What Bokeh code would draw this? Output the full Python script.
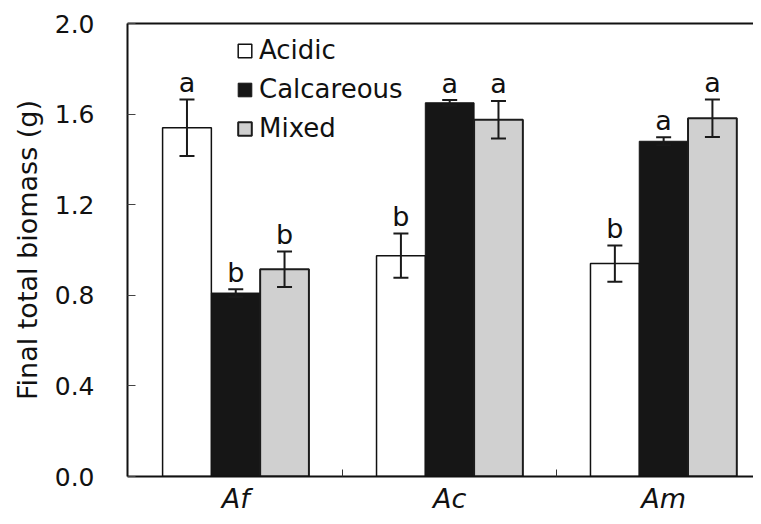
from bokeh.plotting import figure
from bokeh.models import (ColumnDataSource, Range1d, FixedTicker, LinearAxis, Legend, LegendItem,
                          Whisker, TeeHead, NumeralTickFormatter)
from bokeh.core.properties import value
from bokeh.embed import file_html
from bokeh.resources import INLINE

# ---- data ----
groups = ["Af", "Ac", "Am"]
series = ["Acidic", "Calcareous", "Mixed"]
acidic = [1.54, 0.975, 0.94]
acidic_se = [0.125, 0.098, 0.080]
calcareous = [0.81, 1.65, 1.48]
calcareous_se = [0.017, 0.012, 0.018]
mixed = [0.915, 1.575, 1.582]
mixed_se = [0.078, 0.083, 0.083]
acidic_letters = ["a", "b", "b"]
calcareous_letters = ["b", "a", "a"]
mixed_letters = ["b", "a", "a"]
y_ticks = [0.0, 0.4, 0.8, 1.2, 1.6, 2.0]

FONT = "DejaVu Sans"
bar_w = 0.228
offsets = [-bar_w, 0.0, bar_w]
fills = ["#ffffff", "#161616", "#d0d0d0"]
lines = ["#111111", "#161616", "#1c1c1c"]
line_ws = [1.5, 1, 2]

p = figure(width=753, height=516, output_backend="svg", toolbar_location=None,
           x_range=Range1d(0.494, 3.420), y_range=Range1d(0, 2.0),
           min_border_left=127, min_border_right=0, min_border_top=23, min_border_bottom=40)
p.outline_line_color = None
p.xgrid.grid_line_color = None
p.ygrid.grid_line_color = None
p.background_fill_color = "white"
p.border_fill_color = "white"

# x axis
xa = p.xaxis[0]
xa.ticker = FixedTicker(ticks=[1, 2, 3], minor_ticks=[1.5, 2.5])
xa.major_label_overrides = {1: "Af", 2: "Ac", 3: "Am"}
xa.major_label_text_font = FONT
xa.major_label_text_font_style = "italic"
xa.major_label_text_font_size = "27px"
xa.major_label_text_color = "#111111"
xa.major_label_standoff = 6
xa.major_tick_line_color = None
xa.major_tick_in = 0
xa.major_tick_out = 0
xa.minor_tick_in = 7
xa.minor_tick_out = 0
xa.minor_tick_line_color = "#333333"
xa.minor_tick_line_width = 1
xa.axis_line_width = 2
xa.axis_line_color = "#111111"

# y axis
ya = p.yaxis[0]
ya.ticker = FixedTicker(ticks=y_ticks, minor_ticks=[])
ya.formatter = NumeralTickFormatter(format="0.0")
ya.major_label_text_font = FONT
ya.major_label_text_font_size = "25px"
ya.major_label_text_color = "#111111"
ya.major_label_standoff = 33
ya.major_tick_in = 8
ya.major_tick_out = 0
ya.major_tick_line_color = "#444444"
ya.major_tick_line_width = 1
ya.axis_line_width = 2
ya.axis_line_color = "#111111"
ya.axis_label = "Final total biomass (g)"
ya.axis_label_text_font = FONT
ya.axis_label_text_font_style = "normal"
ya.axis_label_text_font_size = "27px"
ya.axis_label_text_color = "#111111"
ya.axis_label_standoff = 9

# top border line
top = LinearAxis(ticker=FixedTicker(ticks=[]), major_label_text_font_size="0px",
                 major_tick_line_color=None, minor_tick_line_color=None,
                 axis_line_width=2, axis_line_color="#111111")
p.add_layout(top, "above")

vals = [acidic, calcareous, mixed]
ses = [acidic_se, calcareous_se, mixed_se]
letters = [acidic_letters, calcareous_letters, mixed_letters]
items = []
for k, name in enumerate(series):
    xs = [i + 1 + offsets[k] for i in range(len(groups))]
    src = ColumnDataSource(dict(
        x=xs, top=vals[k],
        upper=[v + s for v, s in zip(vals[k], ses[k])],
        lower=[v - s for v, s in zip(vals[k], ses[k])],
        lab=letters[k]))
    r = p.vbar(x="x", top="top", bottom=0, width=bar_w, source=src,
               fill_color=fills[k], line_color=lines[k], line_width=line_ws[k])
    items.append(LegendItem(label=name, renderers=[r]))
    w = Whisker(source=src, base="x", upper="upper", lower="lower",
                line_color="#1a1a1a", line_width=2, level="overlay",
                upper_head=TeeHead(size=15, line_width=2, line_color="#1a1a1a"),
                lower_head=TeeHead(size=15, line_width=2, line_color="#1a1a1a"))
    p.add_layout(w)
    p.text(x="x", y="upper", text="lab", source=src, text_align="center",
           text_baseline="alphabetic", y_offset=-17,
           text_font=value(FONT), text_font_size="27px", text_color="#111111")

legend = Legend(items=items, location=(109, 333), orientation="vertical",
                glyph_width=17, glyph_height=17, label_standoff=6, label_height=29,
                spacing=9, padding=0, margin=0, border_line_color=None,
                background_fill_alpha=0,
                label_text_font=FONT, label_text_font_size="26px", label_text_color="#111111")
p.add_layout(legend)

open("out.html", "w").write(file_html(p, INLINE))
